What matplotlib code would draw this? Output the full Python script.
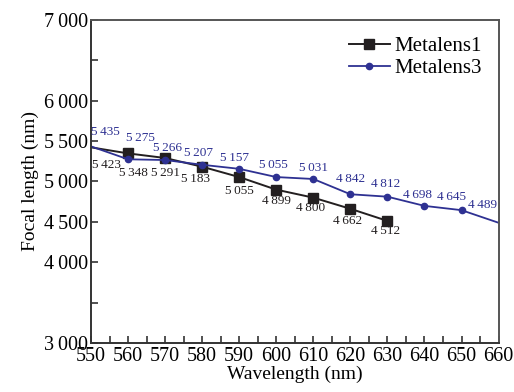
import matplotlib.pyplot as plt
from matplotlib.ticker import MultipleLocator, FixedLocator, FuncFormatter

plt.rcParams['font.family'] = ['Liberation Serif', 'DejaVu Serif']

# focal length vs wavelength for the two metalenses
wl1 = [550, 560, 570, 580, 590, 600, 610, 620, 630]
f1 = [5423, 5348, 5291, 5183, 5055, 4899, 4800, 4662, 4512]
wl3 = [550, 560, 570, 580, 590, 600, 610, 620, 630, 640, 650, 660]
f3 = [5435, 5275, 5266, 5207, 5157, 5055, 5031, 4842, 4812, 4698, 4645, 4489]

ytick_major = [3000, 4000, 4500, 5000, 5500, 6000, 7000]
ytick_minor = [3500, 6500]

# label offsets in pixels (dx, dy)
off1 = [(15, -18), (5, -20), (0, -15), (-7, -12), (0, -14), (0, -11), (-3, -10), (-3, -12), (-2, -10)]
off3 = [(14, 14), (12, 21), (2, 12), (-4, 12), (-5, 11), (-3, 12), (0, 11), (0, 15), (-2, 13),
        (-7, 11), (-10, 13), (-16, 18)]

black = '#231f20'
blue = '#2e3192'


def fmt(v):
    s = '%d' % v
    if len(s) > 3:
        s = s[:-3] + '\u2009' + s[-3:]
    return s


fig = plt.figure(figsize=(5.14, 3.92), dpi=100)
ax = fig.add_axes([0.177, 0.125, 0.793, 0.824])

ax.plot(wl1, f1, color=black, lw=1.4, marker='s', ms=7, markevery=slice(1, None),
        label='Metalens1')
ax.plot(wl3, f3, color=blue, lw=1.3, marker='o', ms=4.5, markevery=slice(1, -1),
        label='Metalens3')

for x, y, (dx, dy) in zip(wl1, f1, off1):
    ax.annotate(fmt(y), (x, y), xytext=(dx, dy), textcoords='offset pixels',
                ha='center', va='center', fontsize=9.5, color=black)
for x, y, (dx, dy) in zip(wl3, f3, off3):
    ax.annotate(fmt(y), (x, y), xytext=(dx, dy), textcoords='offset pixels',
                ha='center', va='center', fontsize=9.5, color=blue)

ax.set_xlim(550, 660)
ax.set_ylim(3000, 7000)
ax.xaxis.set_major_locator(MultipleLocator(10))
ax.xaxis.set_minor_locator(MultipleLocator(5))
ax.yaxis.set_major_locator(FixedLocator(ytick_major))
ax.yaxis.set_minor_locator(FixedLocator(ytick_minor))
ax.yaxis.set_major_formatter(FuncFormatter(lambda v, p: fmt(v)))

ax.tick_params(which='both', direction='in', length=5, width=1.2, color='#333333',
               labelsize=14.5, pad=2)
ax.tick_params(axis='x', pad=3)
for sp in ax.spines.values():
    sp.set_linewidth(1.4)
    sp.set_color('#333333')
ax.spines['top'].set_color('#555555')
ax.spines['right'].set_color('#555555')

ax.set_xlabel('Wavelength (nm)', fontsize=14, labelpad=0)
ax.set_ylabel('Focal length (nm)', fontsize=14, labelpad=4)

ax.legend(loc='upper right', frameon=False, fontsize=15, handlelength=2.0,
          handletextpad=0.2, labelspacing=0.1, borderaxespad=0.4)

fig.savefig('out.png', dpi=100)
